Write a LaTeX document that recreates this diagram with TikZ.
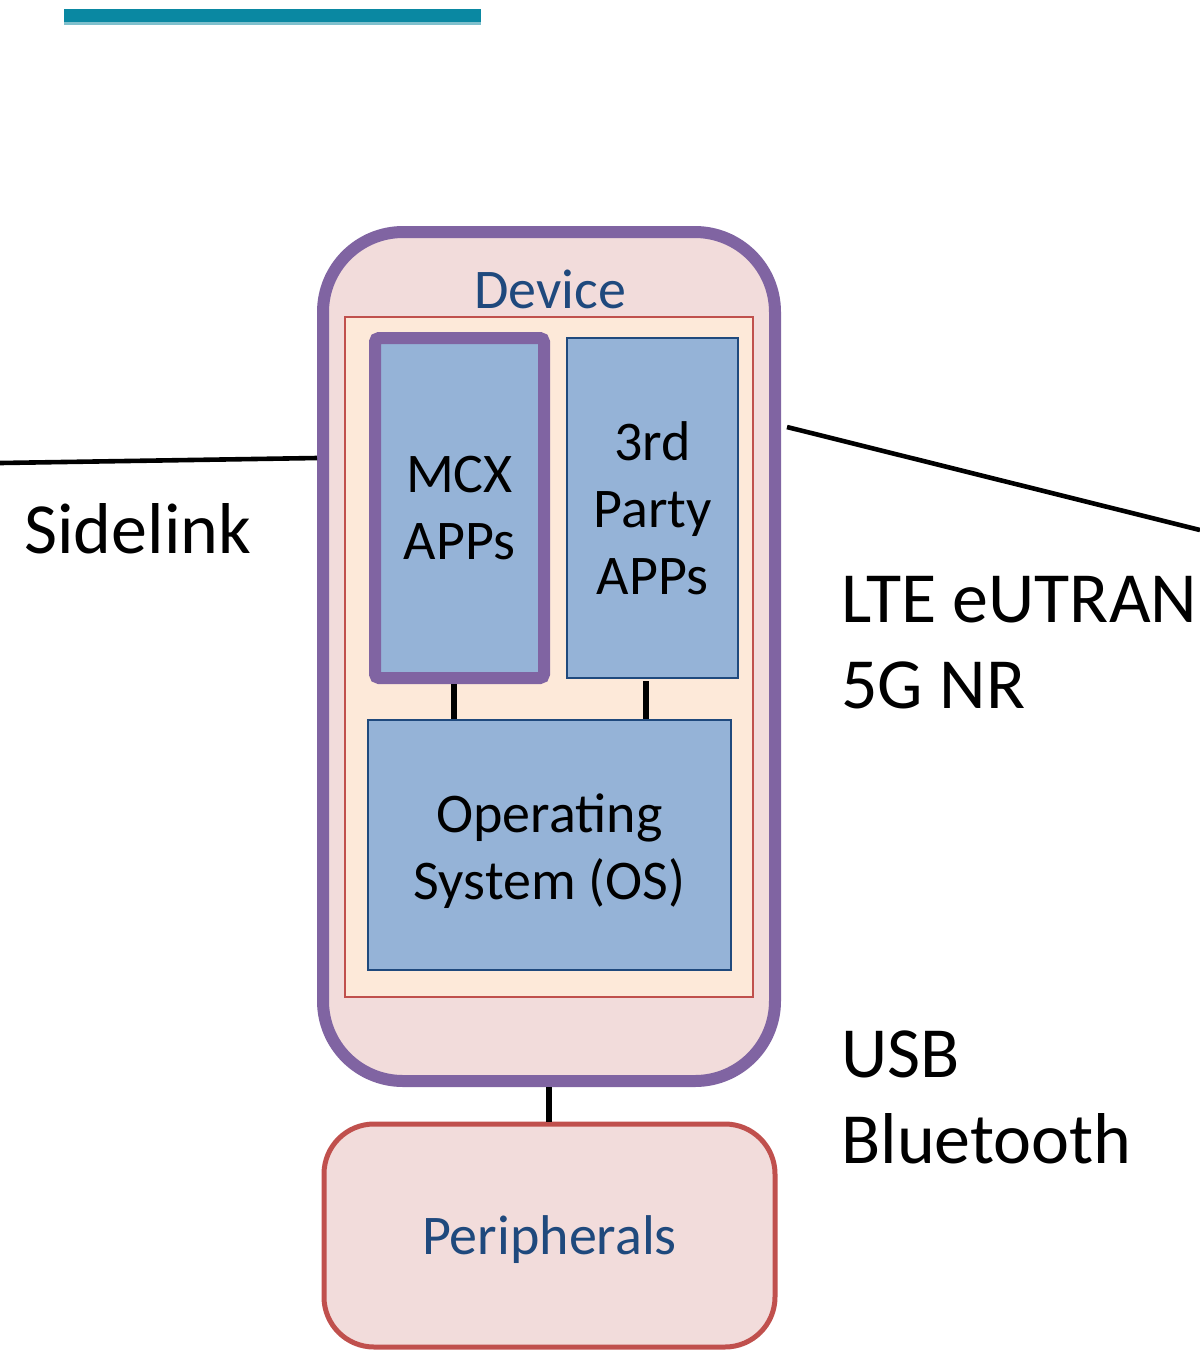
\documentclass[tikz,border=0pt]{standalone}
\usepackage{fontspec}
\setmainfont{Carlito}
\definecolor{barDark}{HTML}{0A88A2}
\definecolor{barLight}{HTML}{7FC0CD}
\definecolor{devPurple}{HTML}{8064A2}
\definecolor{devFill}{HTML}{F2DCDB}
\definecolor{innerFill}{HTML}{FDE9D9}
\definecolor{redLine}{HTML}{C0504D}
\definecolor{boxFill}{HTML}{95B3D7}
\definecolor{darkBlue}{HTML}{1F497D}
\tikzset{
  appbox/.style={draw=darkBlue, line width=1pt, fill=boxFill, align=center, inner sep=0pt,
    font=\fontsize{28}{33.5}\selectfont, text=black},
  link/.style={draw=black, line width=3pt},
  extline/.style={draw=black, line width=2.3pt},
  extlabel/.style={anchor=west, align=left, inner sep=0pt, font=\fontsize{36}{43}\selectfont}
}
\begin{document}
\begin{tikzpicture}[x=0.5pt,y=-0.5pt]
\useasboundingbox (0,0) rectangle (1200,1351);
% top bar
\fill[barDark] (64,9) rectangle (481,22);
\fill[barLight] (64,22) rectangle (481,25);
% device
\node[draw=devPurple, line width=6pt, fill=devFill, rounded corners=40pt,
  minimum width=226pt, minimum height=424.5pt, inner sep=0pt] (device) at (549,656.5) {};
\node[text=darkBlue, font=\fontsize{28}{33.5}\selectfont, inner sep=0pt] (devlabel) at (550,289) {Device};
\node[draw=redLine, line width=0.6pt, fill=innerFill, minimum width=204pt, minimum height=340pt,
  inner sep=0pt] (inner) at (549,657) {};
\node[appbox, draw=devPurple, line width=6pt, rounded corners=2pt, minimum width=84.5pt, minimum height=170pt]
  (mcx) at (459.5,508) {MCX\\APPs};
\node[appbox, minimum width=85.5pt, minimum height=170pt] (third) at (652.5,508) {3rd\\Party\\APPs};
\node[appbox, minimum width=181.5pt, minimum height=125pt] (os) at (549.5,845) {};
\node[align=center, inner sep=0pt, font=\fontsize{28}{33.5}\selectfont] (oslabel) at (549.5,851)
  {Operating\\System (OS)};
\draw[link] (mcx.south -| 454,0) -- (os.north -| 454,0);
\draw[link] (646,681) -- (os.north -| 646,0);
% peripherals
\node[draw=redLine, line width=2.5pt, fill=devFill, rounded corners=25pt, minimum width=225.5pt,
  minimum height=111.5pt, inner sep=0pt, text=darkBlue, text depth=0pt, font=\fontsize{28}{33.5}\selectfont]
  (periph) at (549.5,1235.5) {Peripherals};
\draw[link] (device.south -| 549,0) -- (periph.north -| 549,0);
% external links
\coordinate (sideEnd) at (0,463);
\coordinate (lteEnd) at (1200,530);
\draw[extline] (sideEnd) -- (device.west |- 0,458);
\draw[extline] (787,427) -- (lteEnd);
\node[extlabel] (sidelink) at (24,529) {Sidelink};
\node[extlabel] (lte) at (841,643) {LTE eUTRAN\\5G NR};
\node[extlabel] (usb) at (841,1097) {USB\\Bluetooth};
\end{tikzpicture}
\end{document}
